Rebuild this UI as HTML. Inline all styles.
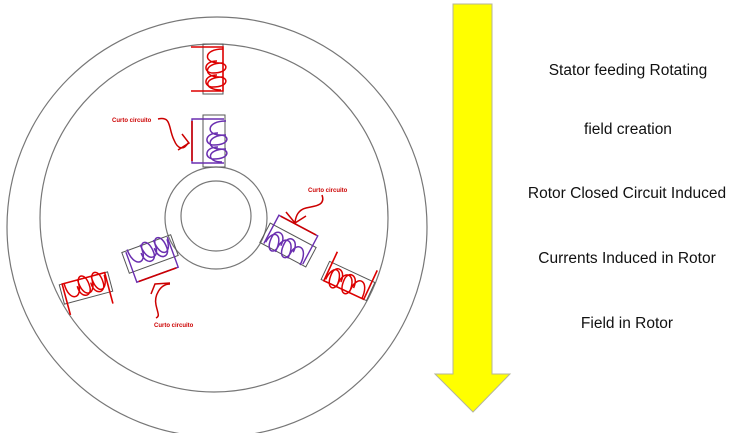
<!DOCTYPE html>
<html><head><style>
body{margin:0;background:#fff;width:737px;height:433px;overflow:hidden}
svg{position:absolute;left:0;top:0}
.t{font-family:"Liberation Sans",sans-serif;font-size:15.5px;fill:#111;text-anchor:middle}
.s{font-family:"Liberation Sans",sans-serif;font-size:6px;fill:#c00;font-weight:bold}
</style></head><body>
<svg width="737" height="433" viewBox="0 0 737 433">
<defs>
<g id="coilR">
 <rect x="-10" y="-25" width="20" height="50" fill="none" stroke="#555" stroke-width="1"/>
 <path d="M-22,-22 H10 V22 H-22" fill="none" stroke="#d00" stroke-width="1.6"/>
 <path d="M10,-20 C-10,-20 -10,-6 6,-6 C16,-6 16,4 0,4 C-10,4 -10,-8 4,-8 M10,-6 C-10,-6 -10,8 6,8 C16,8 16,18 0,18 C-10,18 -10,6 4,6 M10,8 C-10,8 -10,21 8,21" fill="none" stroke="#d00" stroke-width="1.5"/>
</g>
<g id="coilP">
 <rect x="-11" y="-26" width="22" height="52" fill="none" stroke="#555" stroke-width="1"/>
 <path d="M10,-22 H-22 V22 H10" fill="none" stroke="#6a2fb0" stroke-width="1.4"/>
 <line x1="-22" y1="-20" x2="-22" y2="20" stroke="#c00" stroke-width="1.6"/>
 <path d="M12,-20 C-8,-20 -8,-6 6,-6 C16,-6 16,4 0,4 C-10,4 -10,-8 4,-8 M12,-6 C-8,-6 -8,8 6,8 C16,8 16,18 0,18 C-10,18 -10,6 4,6 M12,8 C-8,8 -8,21 8,21" fill="none" stroke="#6a2fb0" stroke-width="1.5"/>
</g>
</defs>
<circle cx="217" cy="227" r="210" fill="none" stroke="#777" stroke-width="1.2"/>
<circle cx="214" cy="218" r="174" fill="none" stroke="#777" stroke-width="1.2"/>
<circle cx="216" cy="218" r="51" fill="none" stroke="#777" stroke-width="1.2"/>
<circle cx="216" cy="216" r="35" fill="none" stroke="#777" stroke-width="1.2"/>

<use href="#coilR" transform="translate(213,69)"/>
<use href="#coilP" transform="translate(214,141)"/>
<use href="#coilR" transform="translate(86,288) rotate(-105)"/>
<use href="#coilP" transform="translate(150,254) rotate(-110)"/>
<use href="#coilP" transform="translate(288,245) rotate(118)"/>
<use href="#coilR" transform="translate(348,281) rotate(115)"/>

<text class="s" x="112" y="122">Curto circuito</text>
<path d="M158,119 C172,116 168,128 174,140 C178,150 184,150 188,143" fill="none" stroke="#c00" stroke-width="1.5"/>
<path d="M178,150 L189,143 L182,134" fill="none" stroke="#c00" stroke-width="1.5"/>
<text class="s" x="308" y="192">Curto circuito</text>
<path d="M322,195 C326,206 314,206 306,208 C298,210 296,216 295,222" fill="none" stroke="#c00" stroke-width="1.5"/>
<path d="M286,212 L295,223 L306,216" fill="none" stroke="#c00" stroke-width="1.5"/>
<text class="s" x="154" y="327">Curto circuito</text>
<path d="M170,284 C160,284 154,296 156,305 C158,314 160,316 156,318" fill="none" stroke="#c00" stroke-width="1.5"/>
<path d="M151,294 L155,284 L170,283" fill="none" stroke="#c00" stroke-width="1.5"/>

<polygon points="453,4 492,4 492,374 510,374 473,412 435,374 453,374" fill="#ffff00" stroke="#b5b59a" stroke-width="1"/>

<text class="t" x="628" y="75">Stator feeding Rotating</text>
<text class="t" x="628" y="134">field creation</text>
<text class="t" x="627" y="198">Rotor Closed Circuit Induced</text>
<text class="t" x="627" y="263">Currents Induced in Rotor</text>
<text class="t" x="627" y="328">Field in Rotor</text>
</svg>
</body></html>
